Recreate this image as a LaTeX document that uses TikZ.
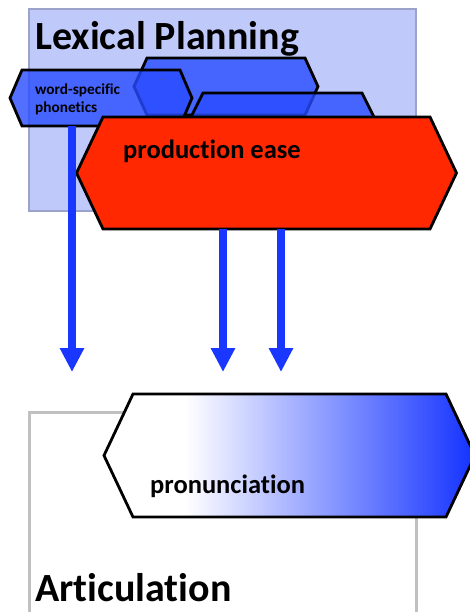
\documentclass[tikz,border=0pt]{standalone}
\usepackage{fontspec}
\setmainfont{Carlito}[Ligatures=NoCommon]
\usetikzlibrary{arrows.meta}

\definecolor{planbg}{RGB}{192,202,250}
\definecolor{planframe}{RGB}{155,163,205}
\definecolor{artframe}{RGB}{192,192,192}
\definecolor{hexblue}{RGB}{40,75,255}
\definecolor{easered}{RGB}{255,40,0}
\definecolor{flowblue}{RGB}{25,55,255}
\definecolor{dotgray}{RGB}{70,90,170}

\pgfdeclarehorizontalshading{pronshade}{100bp}{%
  color(0bp)=(white); color(36bp)=(white);
  color(74bp)=(flowblue); color(100bp)=(flowblue)}

\tikzset{
  x=1pt, y=-1pt,
  region/.style={inner sep=0pt, outer sep=0pt},
  hexof/.style n args={2}{insert path={
    (#1.north west) -- (#1.north east) -- ([xshift=#2]#1.east) --
    (#1.south east) -- (#1.south west) -- ([xshift=-#2]#1.west) -- cycle}},
  bluehex/.style={fill=hexblue, fill opacity=0.8, draw=black, line width=2.8pt, line join=miter},
  redhex/.style={fill=easered, draw=black, line width=2.8pt, line join=miter},
  pronhex/.style={shading=pronshade, draw=black, line width=2.8pt, line join=miter},
  flow/.style={draw=flowblue, line width=8pt,
    -{Triangle[length=24pt,width=23pt]}},
  title/.style={font=\bfseries\fontsize{40}{44}\selectfont, anchor=base west, inner sep=0pt},
  label/.style={font=\bfseries\fontsize{26.5}{30}\selectfont, anchor=base west, inner sep=0pt},
}

\begin{document}
\begin{tikzpicture}
\useasboundingbox (0,0) rectangle (470,612);

% planning stage frame
\node[region, fill=planbg, draw=planframe, line width=2.8pt,
  minimum width=387pt, minimum height=202pt] (plan) at (222.5,110) {};

% invisible regions giving the body of each hexagon
\node[region, minimum width=158pt, minimum height=57pt] (dots) at (226,86.5) {};
\node[region, minimum width=158pt, minimum height=56pt] (wsp) at (101,98) {};
\node[region, minimum width=159pt, minimum height=56pt] (third) at (282.5,121) {};
\node[region, minimum width=327pt, minimum height=112pt] (ease) at (266.5,173) {};

\draw[bluehex, hexof={dots}{13}];
\draw[bluehex, hexof={wsp}{12}];
\draw[bluehex, hexof={third}{14}];
\draw[redhex, hexof={ease}{26.5}];

% arrow end points
\coordinate (t1) at (72,372);
\coordinate (t2) at (223,372);
\coordinate (t3) at (281,372);
\draw[flow] (wsp.south -| t1) -- (t1);
\draw[flow] (ease.south -| t2) -- (t2);
\draw[flow] (ease.south -| t3) -- (t3);

% articulation stage frame
\node[region, fill=white, draw=artframe, line width=3pt,
  minimum width=387pt, minimum height=230pt] (art) at (222.5,527) {};

\node[region, minimum width=313pt, minimum height=123pt] (pron) at (289.5,455.5) {};
\draw[pronhex, hexof={pron}{29}];

% texts
\node[title] (tplan) at (35,50) {Lexical Planning};
\node[title] (tart) at (35,601) {Articulation};
\node[font=\bfseries\fontsize{15.3}{18}\selectfont, align=left, anchor=north west,
  inner sep=0pt] (twsp) at (35,84) {word-specific\\phonetics};
\node[font=\fontsize{9}{10}\selectfont, text=dotgray, inner sep=0pt] (tdots) at (163,80) {...};
\node[label] (tease) at (123,159) {production ease};
\node[label] (tpron) at (150,493) {pronunciation};
\end{tikzpicture}
\end{document}
